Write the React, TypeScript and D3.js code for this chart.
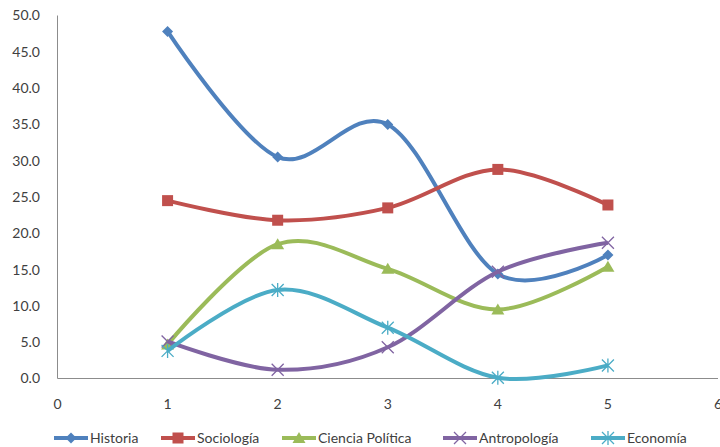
import React from "react";
import * as d3 from "d3";

const xValues = [1, 2, 3, 4, 5];
const seriesNames = ["Historia", "Sociología", "Ciencia Política", "Antropología", "Economía"];
const historia = [47.8, 30.5, 35.0, 14.4, 17.0];
const sociologia = [24.5, 21.8, 23.5, 28.8, 23.9];
const cienciaPolitica = [4.7, 18.5, 15.1, 9.5, 15.4];
const antropologia = [5.1, 1.2, 4.3, 14.7, 18.7];
const economia = [3.8, 12.2, 7.0, 0.1, 1.8];
const yTicks = [0, 5, 10, 15, 20, 25, 30, 35, 40, 45, 50];
const xTicks = [0, 1, 2, 3, 4, 5, 6];

const colors = ["#4F81BD", "#C0504D", "#9BBB59", "#8064A2", "#4BACC6"];
const markers = ["diamond", "square", "triangle", "x", "star"];
const allSeries = [historia, sociologia, cienciaPolitica, antropologia, economia];

const W = 720, H = 447;
const x = d3.scaleLinear().domain([0, 6]).range([57.5, 718]);
const y = d3.scaleLinear().domain([0, 50]).range([378.5, 15.5]);

function Marker({ type, cx, cy, color }: { type: string; cx: number; cy: number; color: string }) {
  if (type === "diamond") {
    const s = 5.5;
    return <path d={`M${cx},${cy - s}L${cx + s},${cy}L${cx},${cy + s}L${cx - s},${cy}Z`} fill={color} />;
  }
  if (type === "square") {
    return <rect x={cx - 5.5} y={cy - 5.5} width={11} height={11} fill={color} />;
  }
  if (type === "triangle") {
    return <path d={`M${cx},${cy - 6}L${cx + 6.5},${cy + 5}L${cx - 6.5},${cy + 5}Z`} fill={color} />;
  }
  if (type === "x") {
    const s = 6;
    return (
      <path d={`M${cx - s},${cy - s}L${cx + s},${cy + s}M${cx - s},${cy + s}L${cx + s},${cy - s}`} stroke={color} strokeWidth={1.3} fill="none" />
    );
  }
  const s = 6;
  return (
    <path
      d={`M${cx - s},${cy - s}L${cx + s},${cy + s}M${cx - s},${cy + s}L${cx + s},${cy - s}M${cx},${cy - s - 1}L${cx},${cy + s + 1}`}
      stroke={color}
      strokeWidth={1.3}
      fill="none"
    />
  );
}

export default function App() {
  const line = d3
    .line<number>()
    .x((_, i) => x(xValues[i]))
    .y((d) => y(d))
    .curve(d3.curveCardinal.tension(0));

  const legendX = [54, 161, 282, 443, 591];
  const font = "Lato, 'Open Sans', sans-serif";

  return (
    <svg width={W} height={H} style={{ position: "absolute", left: 0, top: 0, background: "#fff" }}>
      <line x1={x(0)} x2={x(0)} y1={y(50)} y2={y(0)} stroke="#8c8c8c" strokeWidth={1} />
      <line x1={x(0)} x2={x(6)} y1={y(0)} y2={y(0)} stroke="#8c8c8c" strokeWidth={1} />
      {yTicks.map((t) => (
        <text key={t} x={40} y={y(t)} dy="0.35em" textAnchor="end" fontSize={14} fontFamily={font} fill="#404040">
          {t.toFixed(1)}
        </text>
      ))}
      {xTicks.map((t) => (
        <text key={t} x={x(t)} y={404} dy="0.35em" textAnchor="middle" fontSize={14} fontFamily={font} fill="#404040">
          {t}
        </text>
      ))}
      {allSeries.map((s, si) => (
        <g key={si}>
          <path d={line(s) || ""} fill="none" stroke={colors[si]} strokeWidth={4} strokeLinejoin="round" />
          {s.map((v, i) => (
            <Marker key={i} type={markers[si]} cx={x(xValues[i])} cy={y(v)} color={colors[si]} />
          ))}
        </g>
      ))}
      {seriesNames.map((n, si) => (
        <g key={n}>
          <line x1={legendX[si]} x2={legendX[si] + 34} y1={438} y2={438} stroke={colors[si]} strokeWidth={4} />
          <Marker type={markers[si]} cx={legendX[si] + 17} cy={438} color={colors[si]} />
          <text x={legendX[si] + 36} y={438} dy="0.35em" fontSize={14} fontFamily={font} fill="#404040">
            {n}
          </text>
        </g>
      ))}
    </svg>
  );
}
